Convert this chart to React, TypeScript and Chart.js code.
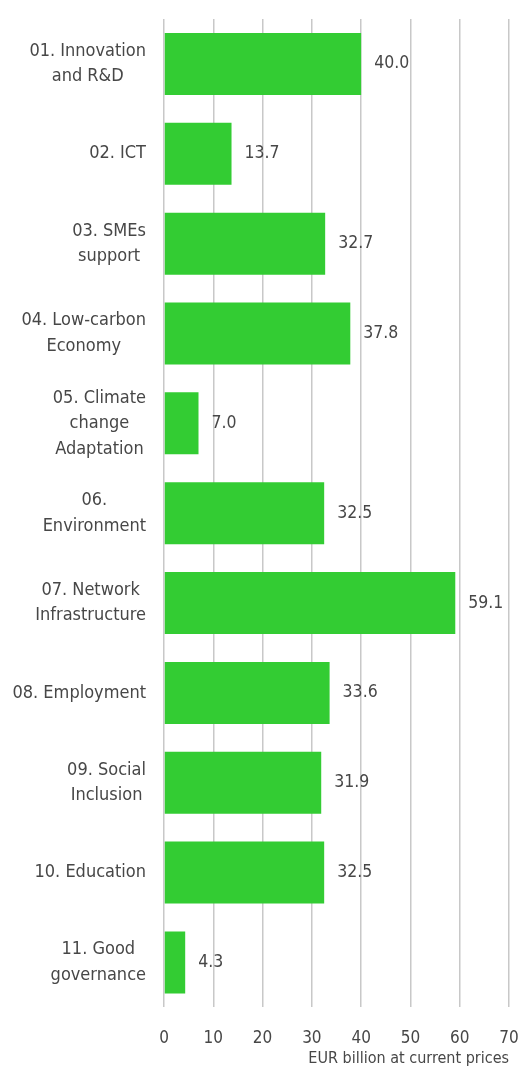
import React, { useEffect, useRef } from "react";
import { Chart, registerables } from "chart.js";

Chart.register(...registerables);

const categories: string[][] = [
  ["01. Innovation", "and R&D"],
  ["02. ICT"],
  ["03. SMEs", "support"],
  ["04. Low-carbon", "Economy"],
  ["05. Climate", "change", "Adaptation"],
  ["06.", "Environment"],
  ["07. Network", "Infrastructure"],
  ["08. Employment"],
  ["09. Social", "Inclusion"],
  ["10. Education"],
  ["11. Good", "governance"],
];

const values: number[] = [40.0, 13.7, 32.7, 37.8, 7.0, 32.5, 59.1, 33.6, 31.9, 32.5, 4.3];

const xTicks: number[] = [0, 10, 20, 30, 40, 50, 60, 70];

const axisTitle = "EUR billion at current prices";

const FONT = "'Liberation Sans Narrow', 'DejaVu Sans Condensed', 'Roboto Condensed', Roboto, sans-serif";
const TEXT = "#474747";
const GREEN = "#33CC33";

const labelsPlugin = {
  id: "customLabels",
  afterDatasetsDraw(chart: any) {
    const ctx = chart.ctx;
    const yScale = chart.scales.y;
    const meta = chart.getDatasetMeta(0);
    const area = chart.chartArea;
    ctx.save();
    ctx.fillStyle = TEXT;
    ctx.font = `18px ${FONT}`;
    ctx.textBaseline = "middle";
    categories.forEach((lines, i) => {
      const yc = yScale.getPixelForValue(i);
      const widest = Math.max(...lines.map((l) => ctx.measureText(l).width));
      const cx = area.left - 18 - widest / 2;
      const lh = 25.5;
      const y0 = yc - ((lines.length - 1) * lh) / 2;
      ctx.textAlign = "center";
      lines.forEach((l, j) => ctx.fillText(l, cx, y0 + j * lh));
    });
    ctx.font = `17.5px ${FONT}`;
    ctx.textAlign = "left";
    meta.data.forEach((bar: any, i: number) => {
      ctx.fillText(values[i].toFixed(1), bar.x + 13, bar.y);
    });
    ctx.restore();
  },
};

export default function App() {
  const ref = useRef<HTMLCanvasElement | null>(null);
  useEffect(() => {
    document.body.style.margin = "0";
    const canvas = ref.current;
    if (!canvas) return;
    const chart = new Chart(canvas, {
      type: "bar",
      data: {
        labels: categories.map((c) => c.join(" ")),
        datasets: [
          {
            data: values,
            backgroundColor: GREEN,
            borderWidth: 0,
            categoryPercentage: 1,
            barPercentage: 0.69,
          },
        ],
      },
      options: {
        indexAxis: "y",
        animation: false,
        responsive: false,
        maintainAspectRatio: false,
        layout: { padding: { left: 164, top: 19, right: 19, bottom: 2 } },
        plugins: {
          legend: { display: false },
          tooltip: { enabled: false },
        },
        scales: {
          y: { display: false },
          x: {
            min: 0,
            max: 70,
            afterBuildTicks: (axis: any) => {
              axis.ticks = xTicks.map((v) => ({ value: v }));
            },
            grid: {
              color: "#c8c8c8",
              lineWidth: 1.5,
              drawTicks: true,
              tickLength: 21,
              tickColor: "rgba(0,0,0,0)",
            },
            border: { display: false },
            ticks: {
              color: TEXT,
              font: { family: FONT, size: 17 },
              padding: 0,
            },
            title: {
              display: true,
              text: axisTitle,
              align: "end",
              color: TEXT,
              font: { family: FONT, size: 16 },
              padding: { top: 0, bottom: 0 },
            },
          },
        },
      },
      plugins: [labelsPlugin],
    });
    return () => chart.destroy();
  }, []);
  return (
    <div style={{ width: 528, height: 1070 }}>
      <canvas ref={ref} width={528} height={1070} style={{ display: "block" }} />
    </div>
  );
}
